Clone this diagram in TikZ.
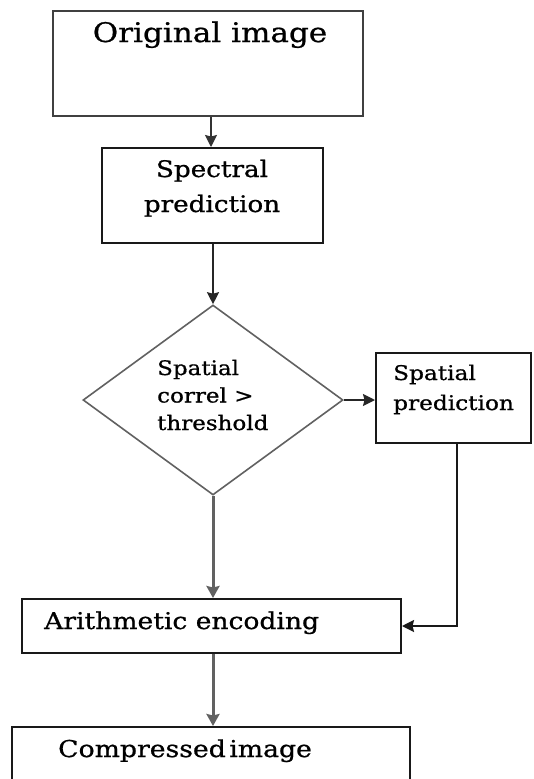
\documentclass[tikz,border=0pt]{standalone}
\usepackage{fontspec}
\newfontfamily\dfont[FakeStretch=1.15,FakeBold=0.8]{DejaVu Serif}
\usetikzlibrary{shapes.geometric,arrows.meta}
\begin{document}
\begin{tikzpicture}[x=1pt,y=-1pt,line join=miter,
  box/.style={draw=black!90, line width=2pt, inner sep=0pt},
  txt/.style={inner sep=0pt, text=black},
  arr/.style={-{Stealth[length=12pt,width=12pt,inset=1.5pt]}, line width=1.8pt, draw=black!85},
  thickarr/.style={-{Stealth[length=12pt,width=13pt,inset=1.5pt]}, line width=3pt, draw=black!62},
]
\useasboundingbox (0,0) rectangle (533,779);
\clip (0,0) rectangle (533,779);
\fill[white] (0,0) rectangle (533,779);
% boxes
\node[box, draw=black!75, minimum width=310pt, minimum height=105pt] (orig) at (208,63.5) {};
\node[txt, anchor=base, font=\dfont\fontsize{27}{32}\selectfont] (origt) at (210,42) {Original image};
\node[box, minimum width=221pt, minimum height=95pt] (spec) at (212.5,195.5) {};
\node[txt, anchor=base, align=center, font=\dfont\fontsize{22.8}{35}\selectfont] (spect) at (212,212) {Spectral\\prediction};
\node[diamond, draw=black!62, line width=1.6pt, inner sep=0pt, aspect=1.37, minimum width=260pt, minimum height=190pt] (dia) at (213,400) {};
\node[txt, anchor=base west, align=left, font=\dfont\fontsize{20}{27.5}\selectfont] (diat) at (157,430) {Spatial\\correl >\\threshold};
\node[box, minimum width=155pt, minimum height=90pt] (spat) at (453.5,398) {};
\node[txt, anchor=base west, align=left, font=\dfont\fontsize{20.2}{30}\selectfont] (spatt) at (393,410) {Spatial\\prediction};
\node[box, minimum width=379pt, minimum height=54pt] (arith) at (211.5,626) {};
\node[txt, anchor=base west, font=\dfont\fontsize{23.1}{28}\selectfont] (aritht) at (44,629) {Arithmetic encoding};
\node[box, minimum width=398pt, minimum height=93pt] (comp) at (211,773.5) {};
\node[txt, anchor=base west, font=\dfont\fontsize{23.2}{28}\selectfont] (compt) at (58,757) {Compressed\hspace{0.15em}image};
% connectors
\draw[arr, line width=1.4pt, draw=black!80] (orig.south -| 211,0) -- (spec.north -| 211,0);
\draw[arr] (spec.south -| dia.north) -- (dia.north);
\draw[arr, line width=1.6pt] (dia.east) -- (dia.east -| spat.west);
\draw[thickarr] (dia.south) -- (dia.south |- arith.north);
\draw[arr, line width=2pt, draw=black!90] (spat.south -| 457,0) |- (arith.east);
\draw[thickarr] (arith.south -| 213,0) -- (comp.north -| 213,0);
\end{tikzpicture}
\end{document}
